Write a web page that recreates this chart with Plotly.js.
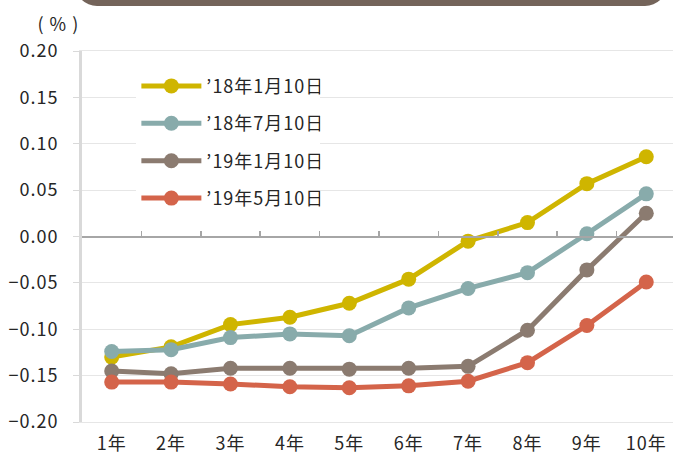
<!DOCTYPE html>
<html>
<head>
<meta charset="utf-8">
<script src="https://cdn.plot.ly/plotly-3.0.1.min.js"></script>
<style>
html,body{margin:0;padding:0;background:#fff;overflow:hidden;}
#wrap{position:relative;width:673px;height:459px;}
#chart{width:673px;height:459px;}
#chart svg text{letter-spacing:1px;}
#banner{position:absolute;left:75px;top:-40px;width:592px;height:46px;border-radius:22px;background:#74645a;z-index:5;}
</style>
</head>
<body>
<div id="wrap">
<div id="chart"></div>
<div id="banner"></div>
</div>
<script>
const categories = ['1年','2年','3年','4年','5年','6年','7年','8年','9年','10年'];
const seriesNames = ["’18年1月10日","’18年7月10日","’19年1月10日","’19年5月10日"];
const s18jan = [-0.130,-0.119,-0.095,-0.087,-0.072,-0.046,-0.005,0.015,0.057,0.086];
const s18jul = [-0.124,-0.122,-0.109,-0.105,-0.107,-0.077,-0.056,-0.039,0.003,0.046];
const s19jan = [-0.145,-0.148,-0.142,-0.142,-0.143,-0.142,-0.140,-0.101,-0.036,0.025];
const s19may = [-0.157,-0.157,-0.159,-0.162,-0.163,-0.161,-0.156,-0.136,-0.096,-0.049];
const colors = ['#cfb500','#88abab','#8b7b70','#d4644a'];
const seriesValues = [s18jan, s18jul, s19jan, s19may];

const FONT = '"Noto Sans CJK JP", "Noto Sans", sans-serif';
const FS = 18;
const traces = seriesValues.map((vals, i) => ({
  type: 'scatter', mode: 'lines+markers',
  x: categories, y: vals, name: seriesNames[i],
  legendgroup: 'g' + i,
  line: {color: colors[i], width: 5},
  marker: {color: colors[i], size: 15},
  hoverinfo: 'skip'
}));
// helper trace for the category axis drawn along the zero line
traces.push({
  type: 'scatter', mode: 'markers', x: categories, y: categories.map(() => null),
  xaxis: 'x2', showlegend: false, hoverinfo: 'skip', marker: {opacity: 0}
});

const xr = [-0.5, 9.45];
const layout = {
  width: 673, height: 459,
  margin: {l: 82, r: 0, t: 51, b: 37},
  paper_bgcolor: '#ffffff', plot_bgcolor: '#ffffff',
  font: {family: FONT, size: FS, color: '#262626'},
  showlegend: true,
  legend: {
    x: 0.092, y: 0.955, xanchor: 'left', yanchor: 'top',
    bgcolor: '#ffffff', borderwidth: 0,
    font: {family: FONT, size: 18, color: '#262626'},
    itemwidth: 60, tracegroupgap: 11, traceorder: 'grouped'
  },
  xaxis: {
    type: 'category', categoryorder: 'array', categoryarray: categories,
    range: xr, showgrid: false, zeroline: false,
    showline: true, mirror: true, linecolor: '#e6e6e6', linewidth: 1,
    ticks: '', tickfont: {family: FONT, size: FS, color: '#262626'},
    ticklabelstandoff: 5, fixedrange: true
  },
  xaxis2: {
    type: 'category', categoryorder: 'array', categoryarray: categories,
    range: xr, overlaying: 'x', anchor: 'free', position: 0.5, side: 'bottom',
    showline: true, linecolor: '#a6a6a6', linewidth: 2.5,
    ticks: 'inside', ticklen: 5, tickwidth: 1.5, tickcolor: '#a6a6a6', tickson: 'boundaries',
    showticklabels: false, showgrid: false, zeroline: false, fixedrange: true
  },
  yaxis: {
    range: [-0.2, 0.2], dtick: 0.05, tick0: 0, tickformat: '.2f',
    showgrid: true, gridcolor: '#e6e6e6', gridwidth: 1, zeroline: false,
    showline: true, linecolor: '#d9d9d9', linewidth: 3,
    ticks: 'outside', ticklen: 6, tickcolor: '#d9d9d9', tickwidth: 1,
    tickfont: {family: FONT, size: FS, color: '#262626'},
    ticklabelstandoff: 11, fixedrange: true
  },
  annotations: [{
    text: '( % )', xref: 'paper', yref: 'paper', x: -0.039, y: 1.0755,
    xanchor: 'center', yanchor: 'middle', showarrow: false,
    font: {family: FONT, size: 18, color: '#262626'}
  }]
};
Plotly.newPlot('chart', traces, layout, {staticPlot: true, displayModeBar: false});
</script>
</body>
</html>
